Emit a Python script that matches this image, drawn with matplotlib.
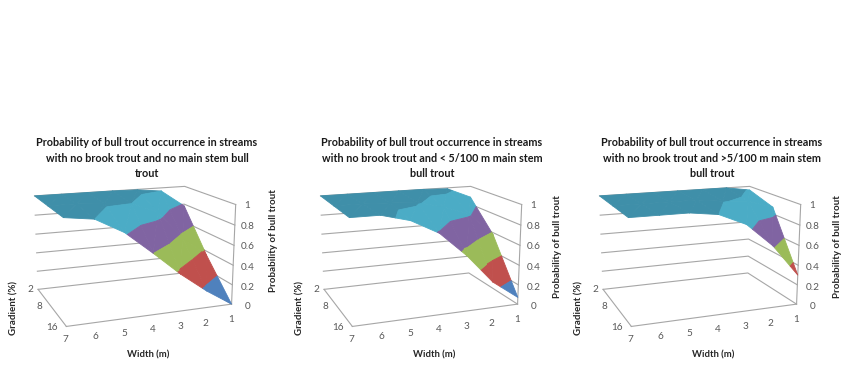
import numpy as np
import matplotlib
matplotlib.use('Agg')
import matplotlib.pyplot as plt
from mpl_toolkits.mplot3d.art3d import Poly3DCollection

W, H = 861, 390
widths = [7, 6, 5, 4, 3, 2, 1]
gradients = [16, 8, 2]
z_ticks = ['0', '0.2', '0.4', '0.6', '0.8', '1']

p1_g16 = [1.00, 0.965, 0.82, 0.60, 0.37, 0.17, 0.00]
p1_g8 = [1.00, 1.00, 0.985, 0.965, 0.86, 0.57, 0.36]
p1_g2 = [1.00, 1.00, 1.00, 1.00, 0.995, 0.965, 0.78]
p2_g16 = [1.00, 1.00, 0.93, 0.79, 0.55, 0.26, 0.07]
p2_g8 = [1.00, 1.00, 0.99, 0.975, 0.91, 0.82, 0.58]
p2_g2 = [1.00, 1.00, 1.00, 1.00, 1.00, 0.99, 0.88]
p3_g16 = [1.00, 1.00, 1.00, 0.965, 0.85, 0.62, 0.30]
p3_g8 = [1.00, 1.00, 1.00, 1.00, 0.97, 0.95, 0.87]
p3_g2 = [1.00, 1.00, 1.00, 1.00, 1.00, 1.00, 0.96]

titles = ['Probability of bull trout occurrence in streams\nwith no brook trout and no main stem bull\ntrout',
          'Probability of bull trout occurrence in streams\nwith no brook trout and < 5/100 m main stem\nbull trout',
          'Probability of bull trout occurrence in streams\nwith no brook trout and >5/100 m main stem\nbull trout']

band_edges = [0, .2, .4, .6, .8, .965, 1.0001]
band_cols = ['#4F81BD', '#C0504D', '#9BBB59', '#8064A2', '#4BACC6', '#3F8FA9']
plt.rcParams['font.family'] = ['Lato', 'DejaVu Sans']

fig = plt.figure(figsize=(W/100, H/100), dpi=100)

ELEV, AZIM, FOCAL, BX, BY = 14.799, -110.728, 0.552, 1.684, 1.133
S_, TX, TY = 1183.950, 131.570, 249.219


def place(ax, s, tx, ty):
    S0 = 500
    ax.set_position([.1, .1, S0/W, S0/H]); ax.apply_aspect()
    k = (ax.transData.transform((1, 0))-ax.transData.transform((0, 0)))[0]
    S = S0*s/k
    ax.set_position([.1, .1, S/W, S/H]); ax.apply_aspect()
    p0 = ax.transData.transform((0, 0))
    l = 86.1+tx-p0[0]; b = 39+(H-ty)-p0[1]
    ax.set_position([l/W, b/H, S/W, S/H])


def clip(poly, lo, hi):
    def half(P, keep, inter):
        out = []
        for i in range(len(P)):
            a, b = P[i], P[(i+1) % len(P)]
            ka, kb = keep(a), keep(b)
            if ka: out.append(a)
            if ka != kb: out.append(inter(a, b))
        return out
    def mk(level):
        return lambda a, b: a+(b-a)*(level-a[2])/(b[2]-a[2])
    P = half(poly, lambda a: a[2] >= lo, mk(lo))
    if P: P = half(P, lambda a: a[2] <= hi, mk(hi))
    return P


def chart(rows, dx, title_x, ypx, title, xoff):
    ax = fig.add_axes([0, 0, 1, 1], projection='3d')
    ax.set_xlim(0, 6); ax.set_ylim(0, 2); ax.set_zlim(0, 1)
    ax.view_init(ELEV, AZIM); ax.set_proj_type('persp', focal_length=FOCAL); ax.set_box_aspect((BX, BY, 1))
    ax.set_axis_off(); ax.patch.set_alpha(0)
    place(ax, S_, TX+dx, TY)
    gc = '#A6A6A6'
    for zv in [0, .2, .4, .6, .8, 1]:
        ax.plot([0, 6, 6], [2, 2, 0], [zv, zv, zv], color=gc, lw=.8, zorder=1)
    ax.plot([0, 6], [0, 0], [0, 0], color=gc, lw=.8, zorder=1)
    ax.plot([0, 0], [0, 2], [0, 0], color=gc, lw=.8, zorder=1)
    ax.plot([6, 6], [0, 0], [0, 1], color=gc, lw=.8, zorder=1)
    Z = np.array(rows)
    polys = []; cols = []
    for j in range(2):
        for i in range(6):
            c = [np.array([i, j, Z[j, i]]), np.array([i+1, j, Z[j, i+1]]),
                 np.array([i+1, j+1, Z[j+1, i+1]]), np.array([i, j+1, Z[j+1, i]])]
            for tri in ([c[0], c[1], c[2]], [c[0], c[2], c[3]]):
                for b in range(len(band_cols)):
                    P = clip(tri, band_edges[b], band_edges[b+1])
                    if len(P) >= 3:
                        polys.append(np.array(P))
                        cols.append(band_cols[b])
    pc = Poly3DCollection(polys, facecolors=cols, edgecolors=cols, linewidths=.6, zorder=3)
    ax.add_collection3d(pc)
    f = lambda x, y, s, **k: fig.text((x+dx)/W, 1-y/H, s, ha='center', va='center', **k)
    tc = '#595959'
    for s, zx, zy in zip(widths, [197, 287, 373, 457, 540, 617, 693], [630, 620, 610, 598, 589, 579, 568]):
        f(zx/3, 130+zy/3, str(s), fontsize=7.2, color=tc)
    for s, zx, zy in zip(gradients, [155, 117, 92], [592, 530, 480]):
        f(zx/3, 130+zy/3, str(s), fontsize=7.2, color=tc)
    for s, zy in zip(z_ticks, [530, 472, 412, 350, 290, 228]):
        f(742/3, 130+zy/3, s, fontsize=7.2, color=tc)
    f(14, 308, 'Gradient (%)', rotation=90, fontsize=7, fontweight='bold', color='#262626')
    f(148, 355, 'Width (m)', fontsize=6.8, fontweight='bold', color='#262626')
    fig.text(xoff/W, 1-ypx/H, 'Probability of bull trout', rotation=90, ha='center', va='center',
             fontsize=7, fontweight='bold', color='#262626')
    fig.text(title_x/W, 1-158/H, title, ha='center', va='center', fontsize=7.75, fontweight='bold',
             color='#1a1a1a', linespacing=1.45)


chart([p1_g16, p1_g8, p1_g2], 0, 147, 241, titles[0], 273)
chart([p2_g16, p2_g8, p2_g2], 286, 432, 247, titles[1], 558)
chart([p3_g16, p3_g8, p3_g2], 565, 712, 247, titles[2], 837)
fig.savefig('out.png', dpi=100)
